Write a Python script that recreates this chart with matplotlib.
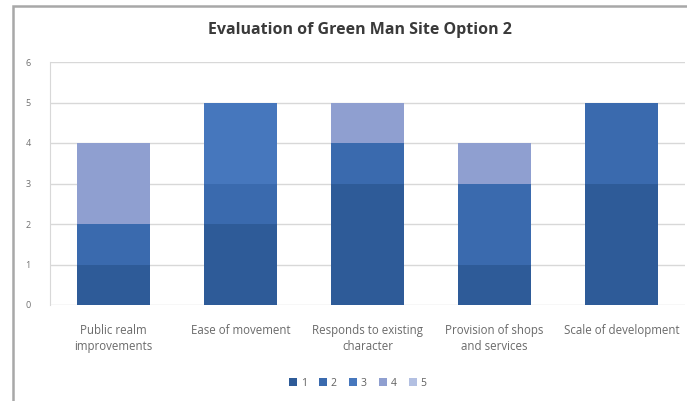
import matplotlib
matplotlib.use("Agg")
import matplotlib.pyplot as plt
from matplotlib.patches import Rectangle
import numpy as np

categories = ["Public realm\nimprovements", "Ease of movement", "Responds to existing\ncharacter",
              "Provision of shops\nand services", "Scale of development"]
series_names = ["1", "2", "3", "4", "5"]
s1 = [1, 2, 3, 1, 3]
s2 = [1, 1, 1, 2, 2]
s3 = [0, 2, 0, 0, 0]
s4 = [2, 0, 1, 1, 0]
s5 = [0, 0, 0, 0, 0]
series = [s1, s2, s3, s4, s5]
colors = ["#2e5b98", "#3a6aae", "#4677bd", "#8f9fd0", "#b3c0e2"]
yticks = [0, 1, 2, 3, 4, 5, 6]

plt.rcParams['font.family'] = ['Open Sans', 'DejaVu Sans']
fig = plt.figure(figsize=(6.87, 4.01), dpi=100)
W, H = 687, 401

# outer chart frame (extends past right and bottom edges)
fig.patches.append(Rectangle((13 / W, -0.05), (W + 20) / W, (H - 6) / H + 0.05, transform=fig.transFigure,
                             fill=False, edgecolor="#a8a8a8", linewidth=1.8))

ax = fig.add_axes([50 / W, 1 - 305 / H, 635 / W, (305 - 62) / H])
x = np.arange(len(categories))
bottom = np.zeros(len(categories))
for name, vals, c in zip(series_names, series, colors):
    ax.bar(x, vals, width=0.57, bottom=bottom, color=c, label=name)
    bottom += np.array(vals)

ax.set_ylim(0, 6)
ax.set_xlim(-0.5, len(categories) - 0.5)
ax.set_yticks(yticks)
ax.set_yticklabels([str(t) for t in yticks], fontsize=6.5, color="#707070")
ax.set_xticks(x)
ax.set_xticklabels(categories, fontsize=8.3, color="#6a6a6a", linespacing=1.25)
ax.tick_params(axis='x', length=0, pad=14)
ax.tick_params(axis='y', length=0, pad=14)
ax.yaxis.grid(True, color="#d8d8d8", linewidth=1)
ax.set_axisbelow(True)
for s in ["top", "right", "bottom"]:
    ax.spines[s].set_visible(False)
ax.spines["left"].set_color("#d8d8d8")

fig.text(360 / W, 1 - 30 / H, "Evaluation of Green Man Site Option 2", ha="center", va="center",
         fontsize=11.5, fontweight="bold", color="#3a3a3a")

leg = fig.legend(loc="center", bbox_to_anchor=(358 / W, 1 - 383 / H), ncol=5, frameon=False,
                 fontsize=7.5, handlelength=0.75, handleheight=0.75, handletextpad=0.35,
                 columnspacing=1.2, labelcolor="#606060")

fig.savefig("out.png", dpi=100)
